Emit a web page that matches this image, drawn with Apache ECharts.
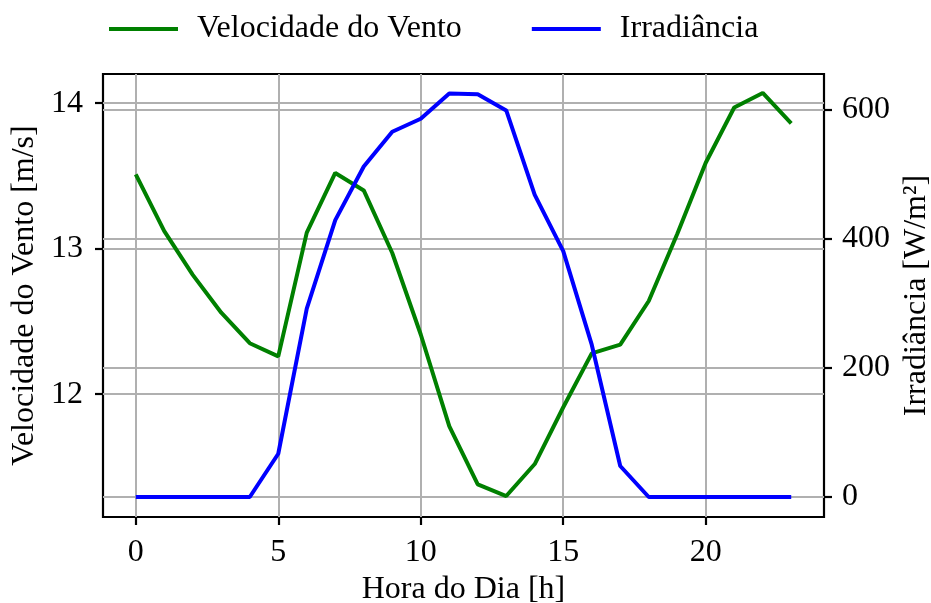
<!DOCTYPE html>
<html>
<head>
<meta charset="utf-8">
<script src="https://cdn.jsdelivr.net/npm/echarts@6/dist/echarts.min.js"></script>
<style>
html,body{margin:0;padding:0;background:#fff;}
#chart{width:931px;height:603px;}
</style>
</head>
<body>
<div id="chart"></div>
<script>
const hours = [0,1,2,3,4,5,6,7,8,9,10,11,12,13,14,15,16,17,18,19,20,21,22,23];
const windSpeed = [13.51,13.12,12.82,12.56,12.35,12.26,13.11,13.52,13.40,12.97,12.41,11.78,11.38,11.30,11.52,11.91,12.28,12.34,12.64,13.10,13.59,13.97,14.07,13.86];
const irradiance = [0,0,0,0,0,67,292,429,512,566,586,625,624,599,468,381,236,48,0,0,0,0,0,0];
const xTicks = [0,5,10,15,20];
const leftTicks = [12,13,14];
const rightTicks = [0,200,400,600];
const seriesNames = ['Velocidade do Vento','Irradiância'];

const FONT = '"Liberation Serif","Times New Roman",serif';
const FS = 32;
const gridColor = '#b0b0b0';

const chart = echarts.init(document.getElementById('chart'), null, {renderer:'canvas'});
const tickStyle = {show:true, inside:false, length:8, lineStyle:{color:'#000', width:2.2}};
const labelStyle = {fontFamily:FONT, fontSize:FS, color:'#000'};

chart.setOption({
  animation:false,
  backgroundColor:'#fff',
  legend:{
    left:104, top:8,
    icon:'rect', itemWidth:69, itemHeight:4, itemGap:70,
    textStyle:{fontFamily:FONT, fontSize:FS, color:'#000', padding:[0,0,0,14]},
    data:seriesNames
  },
  grid:{left:103, right:107, top:74, bottom:86, show:true, borderColor:'#000', borderWidth:2.2, containLabel:false, outerBoundsMode:'none'},
  xAxis:{
    type:'value', min:-1.15, max:24.15,
    name:'Hora do Dia [h]', nameLocation:'middle', nameGap:55,
    nameTextStyle:labelStyle,
    axisLine:{show:false, onZero:false},
    axisTick:Object.assign({customValues:xTicks}, tickStyle),
    axisLabel:Object.assign({customValues:xTicks, margin:20}, labelStyle),
    splitLine:{show:true, lineStyle:{color:gridColor, width:2}}
  },
  yAxis:[{
    type:'value', position:'left', min:11.156, max:14.2,
    name:'Velocidade do Vento [m/s]', nameLocation:'middle', nameRotate:90, nameGap:60,
    nameTextStyle:labelStyle,
    axisLine:{show:false, onZero:false},
    axisTick:Object.assign({customValues:leftTicks}, tickStyle),
    axisLabel:Object.assign({customValues:leftTicks, margin:20}, labelStyle),
    splitLine:{show:true, lineStyle:{color:gridColor, width:2}}
  },{
    type:'value', position:'right', min:-31, max:655.4,
    name:'Irradiância [W/m²]', nameLocation:'middle', nameRotate:90, nameGap:70,
    nameTextStyle:labelStyle,
    axisLine:{show:false, onZero:false},
    axisTick:Object.assign({customValues:rightTicks}, tickStyle),
    axisLabel:Object.assign({customValues:rightTicks, margin:18}, labelStyle),
    splitLine:{show:true, lineStyle:{color:gridColor, width:2}}
  }],
  series:[{
    name:seriesNames[0], type:'line', yAxisIndex:0,
    data:hours.map((h,i)=>[h, windSpeed[i]]),
    showSymbol:false, symbol:'none', color:'#008000',
    lineStyle:{color:'#008000', width:4}, z:3
  },{
    name:seriesNames[1], type:'line', yAxisIndex:1,
    data:hours.map((h,i)=>[h, irradiance[i]]),
    showSymbol:false, symbol:'none', color:'#0000ff',
    lineStyle:{color:'#0000ff', width:4}, z:4
  }]
});
</script>
</body>
</html>
